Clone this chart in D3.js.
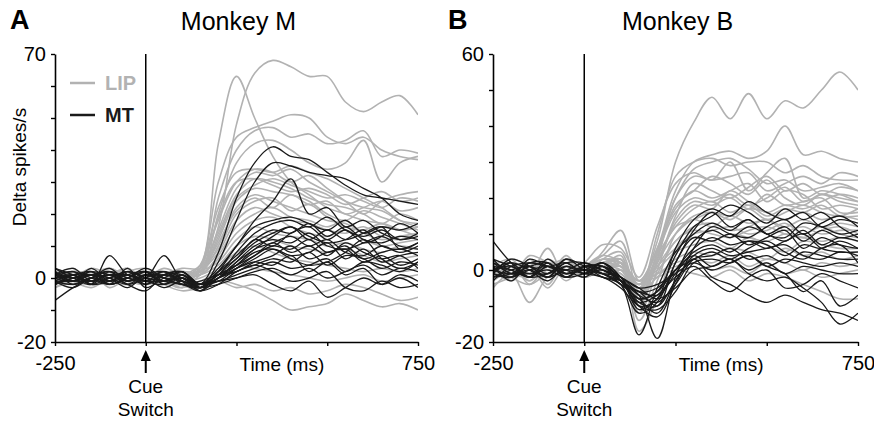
<!DOCTYPE html>
<html>
<head>
<meta charset="utf-8">
<script src="https://cdn.jsdelivr.net/npm/d3@7"></script>
<style>
  body { margin: 0; background: #fff; }
  svg { display: block; font-family: "Liberation Sans", Arial, sans-serif; }
</style>
</head>
<body>
<div id="chart"></div>
<script>
// sample times (ms) relative to cue switch
const timeMs = [-250,-200,-150,-100,-50,0,50,100,150,200,250,300,350,400,450,500,550,600,650,700,750];

// monkey M, LIP neurons (grey)
const lipM = [
  [2,0,-1,1,3,-1,0,-2,3,42,63,50,38,30,26,22,20,18,17,15,16],
  [-1,-2,1,0,-1,2,1,-1,2,16,48,64,68,66,63,63,55,52,55,57,51],
  [0,2,1,-2,0,1,-2,0,4,30,44,47,49,51,50,44,42,44,40,38,37],
  [-3,-1,0,2,1,-1,0,2,2,25,40,46,47,44,45,42,43,46,38,40,39],
  [1,3,-1,-1,-2,0,2,1,1,20,36,42,43,40,36,34,36,43,30,36,38],
  [2,-1,-3,0,1,2,-1,-3,3,22,33,34,33,35,33,31,28,25,22,18,16],
  [-2,1,2,1,-1,-2,0,1,4,18,30,34,33,30,32,28,24,20,24,26,27],
  [0,-2,1,3,0,1,2,-1,2,15,28,33,32,34,30,27,24,22,21,18,17],
  [3,1,-1,-2,1,-1,-2,0,3,14,26,31,30,28,25,23,22,20,17,20,18],
  [-1,0,3,1,-2,0,1,2,2,12,24,28,27,26,24,20,18,21,19,17,15],
  [1,-1,0,-1,2,3,0,-2,1,10,22,26,24,22,20,18,17,14,12,13,14],
  [-2,2,1,0,-1,-2,1,3,3,9,20,24,25,21,23,19,16,15,17,15,13],
  [0,1,-2,-1,2,1,-1,0,2,8,18,22,20,18,17,15,14,16,13,12,14],
  [2,-2,0,2,-1,0,3,1,1,6,14,18,19,16,14,13,15,12,10,11,12],
  [-1,0,2,-3,0,2,-1,-2,2,5,12,16,14,13,12,10,11,9,8,10,9],
  [1,2,-1,0,3,-1,0,1,1,4,10,13,12,10,9,8,9,7,5,6,7],
  [-3,0,1,2,-1,1,2,-1,0,3,8,10,8,6,5,4,3,2,3,2,3],
  [0,-1,-2,1,1,-2,-1,-3,-1,2,4,3,2,1,0,-1,0,1,-1,0,1],
  [2,1,0,-1,-2,0,1,-2,-4,-1,-2,-4,-7,-10,-9,-8,-5,-7,-9,-8,-10],
  [-1,-3,1,0,1,2,-2,-4,-3,-1,-3,-2,-4,-3,-5,-4,-2,-3,-5,-7,-6],
  [1,0,-1,3,0,-1,1,2,1,7,16,20,22,19,18,16,18,14,16,15,16],
  [-2,1,2,-1,2,0,-1,1,2,11,21,25,22,26,23,24,20,22,24,21,22],
  [1,-1,0,2,-2,1,-1,1,2,13,25,29,31,29,27,25,26,24,22,25,24],
  [-1,2,-1,0,1,-1,0,-1,3,19,30,31,29,27,28,26,23,25,27,24,25]
];

// monkey M, MT neurons (black)
const mtM = [
  [1,3,-1,0,2,-2,1,-1,-2,8,25,36,41,38,37,33,29,26,25,24,23],
  [-2,0,1,2,-1,1,-1,0,-3,5,18,30,36,35,33,32,31,28,25,20,18],
  [0,-1,2,-2,0,3,0,-2,-2,3,10,18,24,31,20,22,16,18,14,12,13],
  [3,1,-1,1,-2,0,2,0,-3,2,10,16,18,19,17,15,18,14,16,15,17],
  [-1,-3,0,1,1,-1,-2,1,-2,1,8,14,17,18,16,19,15,13,15,12,14],
  [1,0,-2,7,1,0,7,-1,-4,2,7,12,15,14,17,13,16,12,11,13,12],
  [2,-1,1,-2,3,-3,0,2,-2,1,6,11,14,16,13,11,12,15,10,9,11],
  [-7,-3,0,2,-1,1,-1,2,-3,0,5,10,12,11,14,10,9,11,13,10,9],
  [0,2,-2,-1,1,2,-2,0,-4,0,4,9,11,13,10,12,8,7,10,8,10],
  [-2,1,1,0,-3,1,2,-1,-2,-1,3,7,10,9,12,8,10,6,8,9,7],
  [1,-1,3,-1,0,-2,1,1,-3,0,3,6,9,7,8,11,6,9,5,7,8],
  [3,0,-1,1,-1,2,0,-2,-1,1,2,5,7,10,6,8,9,5,7,4,6],
  [-1,-2,0,-1,2,0,-3,-1,-4,-2,2,4,6,5,8,4,7,6,3,5,4],
  [0,1,-2,2,0,-1,1,2,-2,-1,1,3,5,3,4,6,2,5,4,2,5],
  [2,-1,1,0,-2,1,0,-1,-3,-2,0,2,3,1,3,0,2,4,1,3,2],
  [-2,0,2,1,1,-1,-1,0,-2,-1,0,1,-2,-4,-1,-6,-3,0,-2,1,-1],
  [1,2,0,-2,0,2,-2,1,-3,0,2,4,2,-1,0,2,-3,-4,-1,-3,-2],
  [-1,-1,-1,1,-2,-4,1,2,-2,1,4,8,9,6,4,5,8,12,6,3,5],
  [0,1,2,-1,2,0,-1,-2,-3,0,5,9,13,16,12,15,12,14,16,9,11],
  [2,-2,0,3,-1,1,1,0,-2,2,6,12,10,14,16,12,15,11,13,17,14],
  [-1,1,-2,0,1,-1,2,-2,-3,1,4,7,11,8,10,7,11,8,6,7,3],
  [1,0,1,-2,0,2,-1,1,-2,0,3,5,4,7,2,5,1,3,-2,0,-3]
];

// monkey B, LIP neurons (grey)
const lipB = [
  [-2,1,-3,2,0,1,2,1,-4,8,30,41,48,42,49,42,47,45,50,55,50],
  [1,-2,3,-1,2,0,5,11,-3,6,22,30,32,33,31,33,40,32,33,31,30],
  [-3,0,-1,6,-2,1,4,8,-6,10,26,30,31,29,30,30,27,29,26,25,25],
  [2,-3,1,-2,4,-1,3,5,-8,5,20,28,30,31,28,24,25,22,23,24,22],
  [0,2,-4,1,-1,2,7,6,-2,12,24,27,25,30,22,27,31,20,22,21,19],
  [-4,-2,0,-3,1,0,2,3,-10,3,18,22,26,24,21,25,20,18,21,19,18],
  [1,3,-2,0,-2,1,4,2,-5,6,17,22,20,22,24,19,22,21,17,18,17],
  [-1,0,2,-4,3,-1,1,4,-12,0,14,19,18,20,17,21,18,19,20,16,16],
  [3,-1,0,2,-1,0,3,1,-6,4,12,17,19,16,18,15,17,16,18,15,15],
  [-2,1,-3,1,0,2,1,3,-14,-3,10,15,16,14,17,16,14,16,14,15,14],
  [0,-3,1,-1,2,-1,2,2,-9,2,10,14,12,15,13,14,12,14,12,13,12],
  [-5,-1,-9,-2,-1,0,1,0,-7,1,8,12,13,11,12,14,11,12,10,11,11],
  [2,0,-2,3,-2,1,3,2,-17,-8,6,10,11,12,10,11,13,10,12,10,9],
  [-1,2,0,-1,1,-2,0,1,-5,1,6,9,8,10,9,8,10,9,8,9,8],
  [1,-2,-4,-1,0,-1,2,2,-4,0,5,7,8,6,9,7,5,8,7,6,6],
  [-3,0,1,-5,1,0,1,-1,-6,-2,3,5,4,6,5,3,6,4,5,3,4],
  [0,1,-1,2,-3,1,-1,0,-3,-1,2,3,2,4,1,3,2,0,2,1,2],
  [-2,-1,2,0,1,-2,0,1,-4,-1,1,2,0,1,-1,2,-1,0,-2,-1,0],
  [1,-1,0,-2,2,0,-1,0,-3,-2,0,-1,-2,0,-3,-1,-2,-4,-6,-8,-8],
  [-1,2,-1,3,0,-1,1,-1,-5,2,15,24,22,20,23,26,22,24,21,23,22],
  [0,-2,2,0,-1,1,0,2,-7,4,20,26,25,26,27,22,24,26,24,27,26],
  [2,-1,-2,1,3,0,-1,2,-3,5,16,20,19,21,18,20,23,19,21,20,19],
  [-1,3,1,-2,0,-1,2,3,-4,3,12,14,16,15,17,14,16,18,16,15,17],
  [0,-2,4,2,-1,1,0,-2,-8,-1,8,11,10,9,11,12,10,9,11,12,10],
  [-3,1,-1,0,2,-2,1,1,-5,2,13,18,17,22,19,16,18,17,19,21,20]
];

// monkey B, MT neurons (black)
const mtB = [
  [8,2,-2,1,-1,0,-1,-2,-10,-8,6,14,17,15,19,16,14,16,12,14,13],
  [1,-3,2,1,2,-1,0,-3,-8,-6,4,12,15,18,16,13,17,14,16,12,9],
  [-2,0,1,-2,3,1,-2,-4,-18,-5,5,10,13,11,14,10,12,8,11,9,10],
  [3,1,-1,0,-2,1,1,-3,-7,-19,-2,8,11,9,12,10,8,11,7,9,8],
  [-1,-2,3,1,0,-2,1,-2,-9,-10,2,9,8,10,7,9,11,6,9,7,6],
  [0,2,-2,3,-1,0,-1,-3,-6,-7,0,6,9,7,8,6,8,10,6,5,5],
  [3,-1,0,-2,2,-1,2,-2,-11,-8,-1,5,7,5,8,7,4,7,6,8,6],
  [-3,1,2,1,-1,1,-1,-4,-8,-12,-3,4,6,4,5,6,7,4,3,5,4],
  [1,0,-2,-1,2,2,0,-3,-7,-9,-4,3,4,6,3,4,2,5,4,3,3],
  [-1,3,1,-2,0,-1,-2,-5,-10,-11,-6,2,3,2,4,1,3,2,1,2,1],
  [-2,-1,2,2,-2,1,1,-2,-5,-8,-5,0,1,3,0,2,-1,1,0,-1,-1],
  [2,-1,-1,-1,1,0,2,-3,-9,-7,-2,1,-3,-6,-2,0,-5,-4,-1,-3,-5],
  [0,1,-2,2,-2,-1,1,-4,-6,-10,-3,3,-2,-4,-7,-9,-7,-9,-11,-12,-14],
  [1,-2,1,-1,3,0,-2,-3,-8,-6,0,4,1,3,-1,-3,-2,-5,-9,-15,-12],
  [-1,-2,0,1,0,2,0,-2,-5,-4,-1,2,0,2,4,1,-1,-6,-3,-10,-7],
  [-1,2,0,-3,1,-1,2,-3,-10,-13,-4,6,12,10,9,12,14,10,13,15,12],
  [2,0,-2,1,-1,0,-1,-4,-12,-9,2,11,16,12,14,10,9,13,12,10,11],
  [0,-1,1,2,-2,1,0,-2,-6,-5,0,3,5,3,6,8,5,3,6,7,2]
];

const xTicks = [-250, 0, 250, 500, 750];

const svgW = 874, svgH = 422;
const grey = '#b2b2b2', dark = '#1a1a1a';

const svg = d3.select('#chart').append('svg')
  .attr('width', svgW)
  .attr('height', svgH);

// layout of the two panels
const panels = [
  { letter: 'A', title: 'Monkey M', left: 55, right: 418, yMax: 70, lip: lipM, mt: mtM, legend: true },
  { letter: 'B', title: 'Monkey B', left: 493, right: 858, yMax: 60, lip: lipB, mt: mtB, legend: false }
];
const plotTop = 54, plotBottom = 342;

panels.forEach((p, pi) => {
  const x = d3.scaleLinear().domain([-250, 750]).range([p.left, p.right]);
  const y = d3.scaleLinear().domain([-20, p.yMax]).range([plotBottom, plotTop]);
  const g = svg.append('g');

  // clip the traces to the plot box
  const clipId = 'clip' + pi;
  svg.append('clipPath').attr('id', clipId)
    .append('rect')
    .attr('x', p.left).attr('y', plotTop - 2)
    .attr('width', p.right - p.left).attr('height', plotBottom - plotTop + 2);

  const line = d3.line()
    .x((d, i) => x(timeMs[i]))
    .y(d => y(d))
    .curve(d3.curveCatmullRom.alpha(0.5));

  const traces = g.append('g').attr('clip-path', `url(#${clipId})`).attr('fill', 'none');
  traces.selectAll('path.lip')
    .data(p.lip)
    .join('path')
    .attr('class', 'lip')
    .attr('d', line)
    .attr('stroke', grey)
    .attr('stroke-width', 1.6);
  traces.selectAll('path.mt')
    .data(p.mt)
    .join('path')
    .attr('class', 'mt')
    .attr('d', line)
    .attr('stroke', dark)
    .attr('stroke-width', 1.3);

  // cue switch line
  g.append('line')
    .attr('x1', x(0)).attr('x2', x(0))
    .attr('y1', plotTop).attr('y2', plotBottom)
    .attr('stroke', '#000').attr('stroke-width', 1.5);

  // y axis: ticks every 10, labels only on ends and zero
  const yLabels = [p.yMax, 0, -20];
  const yAxis = g.append('g')
    .attr('transform', `translate(${p.left},0)`)
    .call(d3.axisLeft(y)
      .tickValues(d3.range(-20, p.yMax + 1, 10))
      .tickSize(4).tickSizeOuter(0).tickPadding(5)
      .tickFormat(d => yLabels.includes(d) ? d : ''));

  // x axis
  const xAxis = g.append('g')
    .attr('transform', `translate(0,${plotBottom})`)
    .call(d3.axisBottom(x)
      .tickValues(xTicks)
      .tickSize(4).tickSizeOuter(0).tickPadding(10)
      .tickFormat(d => (d === -250 || d === 750) ? d : ''));

  [yAxis, xAxis].forEach(ax => {
    ax.select('.domain').attr('stroke', '#000').attr('stroke-width', 1.6);
    ax.selectAll('.tick line').attr('stroke', '#000').attr('stroke-width', 1.4);
    ax.selectAll('.tick text').attr('fill', '#000').style('font-size', '20px')
      .style('font-family', '"Liberation Sans", Arial, sans-serif');
  });

  g.append('text')
    .attr('x', x(375)).attr('y', plotBottom + 29)
    .attr('text-anchor', 'middle')
    .style('font-size', '19px')
    .text('Time (ms)');

  // arrow under the cue line
  const ax0 = x(0);
  g.append('line')
    .attr('x1', ax0).attr('x2', ax0)
    .attr('y1', plotBottom + 17).attr('y2', plotBottom + 31)
    .attr('stroke', '#000').attr('stroke-width', 2);
  g.append('path')
    .attr('d', `M${ax0},${plotBottom + 8}L${ax0 - 5},${plotBottom + 19}L${ax0 + 5},${plotBottom + 19}Z`)
    .attr('fill', '#000');
  g.append('text')
    .attr('x', ax0).attr('y', plotBottom + 51)
    .attr('text-anchor', 'middle').style('font-size', '19px')
    .text('Cue');
  g.append('text')
    .attr('x', ax0).attr('y', plotBottom + 74)
    .attr('text-anchor', 'middle').style('font-size', '19px')
    .text('Switch');

  // panel title and letter
  g.append('text')
    .attr('x', (p.left + p.right) / 2 + 2).attr('y', 30)
    .attr('text-anchor', 'middle').style('font-size', '25px')
    .text(p.title);
  g.append('text')
    .attr('x', p.left - 45).attr('y', 29)
    .style('font-size', '27px').style('font-weight', 'bold')
    .text(p.letter);

  if (p.legend) {
    const leg = g.append('g');
    [['LIP', grey, 83], ['MT', dark, 115]].forEach(([name, col, ly]) => {
      leg.append('line')
        .attr('x1', 70).attr('x2', 95).attr('y1', ly).attr('y2', ly)
        .attr('stroke', col).attr('stroke-width', 2.5);
      leg.append('text')
        .attr('x', 105).attr('y', ly + 7)
        .attr('fill', col).style('font-size', '20px').style('font-weight', 'bold')
        .text(name);
    });

    g.append('text')
      .attr('transform', 'translate(26,167) rotate(-90)')
      .attr('text-anchor', 'middle').style('font-size', '19px')
      .text('Delta spikes/s');
  }
});
</script>
</body>
</html>
